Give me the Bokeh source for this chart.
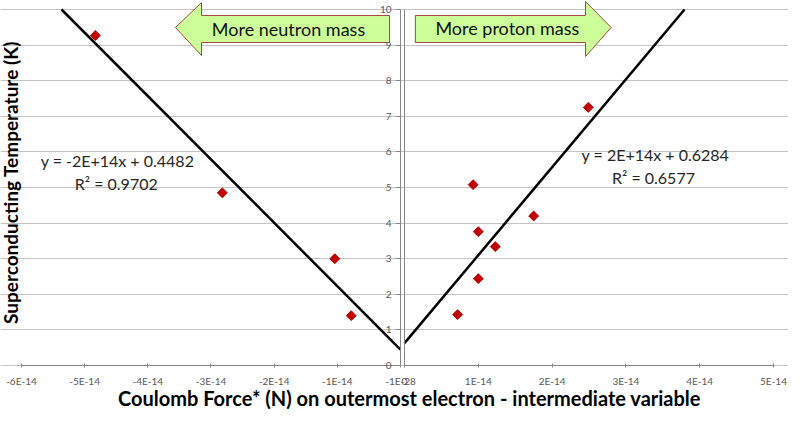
import numpy as np
from bokeh.plotting import figure
from bokeh.models import Range1d, LinearAxis, FixedTicker, Label
from bokeh.embed import file_html
from bokeh.resources import INLINE

# ---------------- data ----------------
left_force = [-4.83e-14, -2.82e-14, -1.04e-14, -0.78e-14]
left_tc = [9.27, 4.85, 3.00, 1.40]

right_force = [0.72e-14, 0.93e-14, 1.00e-14, 1.00e-14, 1.23e-14, 1.75e-14, 2.49e-14]
right_tc = [1.43, 5.08, 3.76, 2.44, 3.34, 4.20, 7.25]

left_slope = -1.78e14
left_intercept = 0.4482
right_slope = 2.47e14
right_intercept = 0.6284

left_eq = "y = -2E+14x + 0.4482"
left_r2 = "R² = 0.9702"
right_eq = "y = 2E+14x + 0.6284"
right_r2 = "R² = 0.6577"

left_ticks = [-6e-14, -5e-14, -4e-14, -3e-14, -2e-14, -1e-14, 0.0]
left_tick_labels = ["-6E-14", "-5E-14", "-4E-14", "-3E-14", "-2E-14", "-1E-14", "-1E-28"]
right_ticks = [0.0, 1e-14, 2e-14, 3e-14, 4e-14, 5e-14]
right_tick_labels = ["0", "1E-14", "2E-14", "3E-14", "4E-14", "5E-14"]
y_ticks = [0, 1, 2, 3, 4, 5, 6, 7, 8, 9, 10]
y_tick_labels = ["0", "1", "2", "3", "4", "5", "6", "7", "8", "9", "10"]

x_title = "Coulomb Force* (N) on outermost electron - intermediate variable"
y_title = "Superconducting Temperature (K)"
left_arrow_text = "More neutron mass"
right_arrow_text = "More proton mass"

# ---------------- styling ----------------
FONT = "Lato"
AXIS_GRAY = "#868686"
GRID_GRAY = "#C4C4C4"
LABEL_GRAY = "#595959"
MARKER = "#C00000"
ARROW_FILL = "#CCFF99"
ARROW_LINE = "#A5473F"

# the frame fills the whole canvas; both panels share the y scale
p = figure(width=788, height=409, output_backend="svg", toolbar_location=None,
           x_range=Range1d(-6.332e-14, 6.142e-14), y_range=Range1d(-1.236, 10.253),
           x_axis_location=None, y_axis_location=None, min_border=0)
p.extra_x_ranges = {"right": Range1d(-5.474e-14, 5.203e-14)}
p.outline_line_color = None
p.background_fill_color = "white"
p.xgrid.visible = False
p.ygrid.ticker = FixedTicker(ticks=y_ticks)
p.ygrid.grid_line_color = GRID_GRAY
p.ygrid.bounds = (0, 10)


def style_ticks(ax):
    ax.axis_line_color = AXIS_GRAY
    ax.major_tick_line_color = AXIS_GRAY
    ax.minor_tick_line_color = None
    ax.major_label_text_font = FONT
    ax.major_label_text_font_size = "10px"
    ax.major_label_text_color = LABEL_GRAY


# x axis of the left panel, at y = 0
ax_lx = LinearAxis(ticker=FixedTicker(ticks=left_ticks), bounds=(-6e-14, 0.0),
                   fixed_location=0,
                   major_label_overrides=dict(zip(left_ticks, left_tick_labels)))
style_ticks(ax_lx)
ax_lx.major_tick_in = 2
ax_lx.major_tick_out = 2
ax_lx.major_label_standoff = 8
p.add_layout(ax_lx, "below")

# x axis of the right panel, on the same line
ax_rx = LinearAxis(x_range_name="right", ticker=FixedTicker(ticks=right_ticks),
                   bounds=(0.0, 5e-14), fixed_location=0,
                   major_label_overrides=dict(zip(right_ticks, right_tick_labels)))
style_ticks(ax_rx)
ax_rx.major_tick_in = 2
ax_rx.major_tick_out = 2
ax_rx.major_label_standoff = 8
p.add_layout(ax_rx, "below")

# y axis of the left panel at x = 0 (labels shown)
ax_ly = LinearAxis(ticker=FixedTicker(ticks=y_ticks), bounds=(0, 10), fixed_location=0,
                   major_label_overrides=dict(zip(y_ticks, y_tick_labels)))
style_ticks(ax_ly)
ax_ly.major_tick_in = 0
ax_ly.major_tick_out = 5
ax_ly.major_label_standoff = 4
p.add_layout(ax_ly, "left")

# y axis line of the right panel at x = 0
ax_ry = LinearAxis(x_range_name="right", ticker=FixedTicker(ticks=[]), bounds=(0, 10),
                   fixed_location=0)
style_ticks(ax_ry)
p.add_layout(ax_ry, "left")

# axis titles
p.add_layout(Label(x=0.142e-14, y=-0.90, text=x_title, text_align="center",
                   text_baseline="middle", text_font=FONT, text_font_style="bold",
                   text_font_size="20px", text_color="black"))
p.add_layout(Label(x=-6.174e-14, y=5.14, text=y_title, angle=np.pi / 2,
                   text_align="center", text_baseline="middle", text_font=FONT,
                   text_font_style="bold", text_font_size="19px", text_color="black"))

# ---------------- trendlines ----------------
lx = [(10 - left_intercept) / left_slope, 0.0]
ly = [left_slope * x + left_intercept for x in lx]
p.line(lx, ly, line_color="black", line_width=2.5)

rx = [0.0, (10 - right_intercept) / right_slope]
ry = [right_slope * x + right_intercept for x in rx]
p.line(rx, ry, line_color="black", line_width=2.5, x_range_name="right")

# ---------------- markers ----------------
p.scatter(left_force, left_tc, marker="square", angle=np.pi / 4, size=7,
          fill_color=MARKER, line_color=MARKER)
p.scatter(right_force, right_tc, marker="square", angle=np.pi / 4, size=7,
          fill_color=MARKER, line_color=MARKER, x_range_name="right")

# ---------------- arrows ----------------
la_x = [-3.562e-14, -3.150e-14, -3.150e-14, -0.174e-14, -0.174e-14, -3.150e-14, -3.150e-14]
la_y = [9.494, 10.197, 9.831, 9.831, 9.073, 9.073, 8.708]
p.patch(la_x, la_y, fill_color=ARROW_FILL, line_color=ARROW_LINE, line_width=1)

ra_x = [0.147e-14, 2.453e-14, 2.453e-14, 2.80e-14, 2.453e-14, 2.453e-14, 0.147e-14]
ra_y = [9.831, 9.831, 10.225, 9.494, 8.680, 9.073, 9.073]
p.patch(ra_x, ra_y, fill_color=ARROW_FILL, line_color=ARROW_LINE, line_width=1,
        x_range_name="right")

p.add_layout(Label(x=-1.773e-14, y=9.452, text=left_arrow_text, text_align="center",
                   text_baseline="middle", text_font=FONT, text_font_size="18px",
                   text_color="#111111"))
p.add_layout(Label(x=1.393e-14, y=9.48, text=right_arrow_text, text_align="center",
                   text_baseline="middle", text_font=FONT, text_font_size="18px",
                   text_color="#111111", x_range_name="right"))

# ---------------- equations ----------------
for (x, y, t, rng) in [(-4.48e-14, 5.758, left_eq, "default"),
                       (-4.50e-14, 5.112, left_r2, "default"),
                       (3.40e-14, 5.927, right_eq, "right"),
                       (3.373e-14, 5.281, right_r2, "right")]:
    p.add_layout(Label(x=x, y=y, text=t, text_align="center", text_baseline="middle",
                       text_font=FONT, text_font_size="16px", text_color="#262626",
                       x_range_name=rng))

open("out.html", "w").write(file_html(p, INLINE))
